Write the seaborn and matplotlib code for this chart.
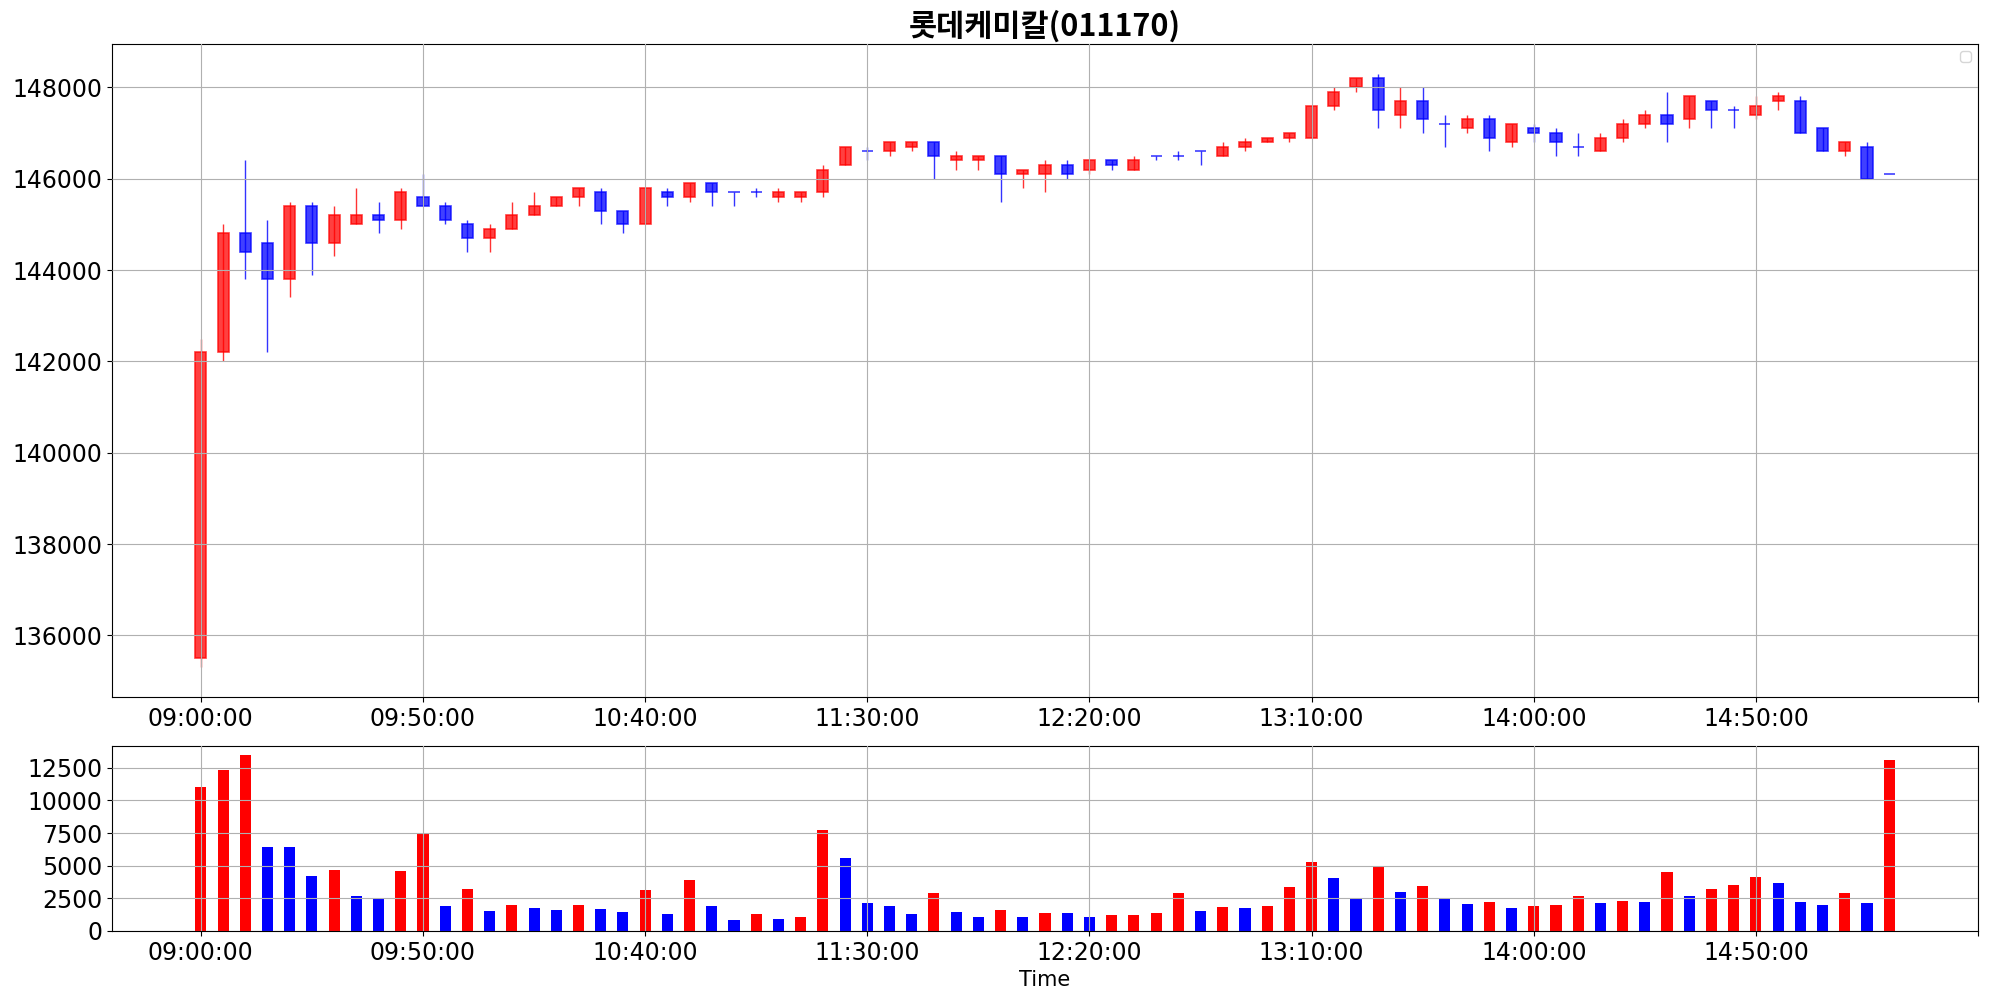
import matplotlib
matplotlib.use("Agg")
import matplotlib.pyplot as plt
from matplotlib.ticker import MultipleLocator
import seaborn as sns
import pandas as pd

title = "롯데케미칼(011170)"
tick_labels = ["09:00:00", "09:50:00", "10:40:00", "11:30:00",
               "12:20:00", "13:10:00", "14:00:00", "14:50:00", ""]

opens = [135500, 142200, 144800, 144600, 143800, 145400, 144600, 145000, 145200, 145100,
         145600, 145400, 145000, 144700, 144900, 145200, 145400, 145600, 145700, 145300,
         145000, 145700, 145600, 145900, 145700, 145700, 145600, 145600, 145700, 146300,
         146600, 146600, 146700, 146800, 146400, 146400, 146500, 146100, 146100, 146300,
         146200, 146400, 146200, 146500, 146500, 146600, 146500, 146700, 146800, 146900,
         146900, 147600, 148000, 148200, 147400, 147700, 147200, 147100, 147300, 146800,
         147100, 147000, 146700, 146600, 146900, 147200, 147400, 147300, 147700, 147500,
         147400, 147700, 147700, 147100, 146600, 146700, 146100]
closes = [142200, 144800, 144400, 143800, 145400, 144600, 145200, 145200, 145100, 145700,
          145400, 145100, 144700, 144900, 145200, 145400, 145600, 145800, 145300, 145000,
          145800, 145600, 145900, 145700, 145700, 145700, 145700, 145700, 146200, 146700,
          146600, 146800, 146800, 146500, 146500, 146500, 146100, 146200, 146300, 146100,
          146400, 146300, 146400, 146500, 146500, 146600, 146700, 146800, 146900, 147000,
          147600, 147900, 148200, 147500, 147700, 147300, 147200, 147300, 146900, 147200,
          147000, 146800, 146700, 146900, 147200, 147400, 147200, 147800, 147500, 147500,
          147600, 147800, 147000, 146600, 146800, 146000, 146100]
highs = [142500, 145000, 146400, 145100, 145500, 145500, 145400, 145800, 145500, 145800,
         146100, 145500, 145100, 145000, 145500, 145700, 145600, 145800, 145800, 145300,
         145800, 145800, 145900, 145900, 145700, 145800, 145800, 145700, 146300, 146700,
         146700, 146800, 146800, 146800, 146600, 146500, 146500, 146200, 146400, 146400,
         146400, 146400, 146500, 146500, 146600, 146600, 146800, 146900, 146900, 147000,
         147600, 148000, 148200, 148300, 148000, 148000, 147400, 147400, 147400, 147200,
         147200, 147100, 147000, 147000, 147300, 147500, 147900, 147800, 147700, 147600,
         147800, 147900, 147800, 147100, 146800, 146800, 146100]
lows = [135300, 142000, 143800, 142200, 143400, 143900, 144300, 145000, 144800, 144900,
        145400, 145000, 144400, 144400, 144900, 145200, 145400, 145400, 145000, 144800,
        145000, 145400, 145500, 145400, 145400, 145600, 145500, 145500, 145600, 146300,
        146400, 146500, 146600, 146000, 146200, 146200, 145500, 145800, 145700, 146000,
        146100, 146200, 146200, 146400, 146400, 146300, 146500, 146600, 146800, 146800,
        146900, 147500, 147900, 147100, 147100, 147000, 146700, 147000, 146600, 146700,
        146800, 146500, 146500, 146600, 146800, 147100, 146800, 147100, 147100, 147100,
        147300, 147500, 147000, 146600, 146500, 146000, 146100]
volumes = [11000, 12300, 13500, 6400, 6400, 4200, 4650, 2670, 2440, 4580,
           7400, 1900, 3200, 1530, 1990, 1760, 1600, 1990, 1680, 1450,
           3130, 1300, 3900, 1900, 840, 1300, 920, 1070, 7710, 5580,
           2140, 1900, 1300, 2900, 1450, 1070, 1600, 1070, 1400, 1380,
           1070, 1210, 1230, 1380, 2900, 1530, 1830, 1760, 1900, 3360,
           5270, 4050, 2440, 4890, 2980, 3440, 2440, 2060, 2210, 1760,
           1900, 1990, 2670, 2140, 2290, 2210, 4500, 2670, 3200, 3510,
           4120, 3670, 2210, 1990, 2900, 2140, 13100]

df = pd.DataFrame({"open": opens, "high": highs, "low": lows,
                   "close": closes, "volume": volumes})
df["idx"] = range(len(df))
df["candle"] = ["up" if c > o else "down" for o, c in zip(df["open"], df["close"])]
df["vol_dir"] = ["up" if i == 0 or v > df["volume"].iloc[i - 1] else "down"
                 for i, v in enumerate(df["volume"])]

colors = {"up": "red", "down": "blue"}

fig = plt.figure(figsize=(19.89, 9.99), dpi=100)
ax = fig.add_axes([0.0563, 0.3023, 0.9382, 0.6537])
ax_vol = fig.add_axes([0.0563, 0.0681, 0.9382, 0.1852])

# candles
for kind, grp in df.groupby("candle"):
    c = colors[kind]
    ax.vlines(grp["idx"], grp["low"], grp["high"], color=c, linewidth=1, alpha=0.8)
    body_low = grp[["open", "close"]].min(axis=1)
    body_h = (grp["close"] - grp["open"]).abs()
    ax.bar(grp["idx"], body_h, bottom=body_low, width=0.5,
           color=c, alpha=0.75, edgecolor=c, linewidth=1.2)

ax.set_title(title, fontsize=22, fontweight="bold",
             family=["Noto Sans CJK KR", "DejaVu Sans"])
ax.legend(loc="upper right")

# volume
sns.barplot(data=df, x="idx", y="volume", hue="vol_dir", palette=colors,
            dodge=False, width=0.5, saturation=1, legend=False, ax=ax_vol, zorder=1)
ax_vol.set_ylabel("")
ax_vol.set_xlabel("Time", fontsize=15)
ax_vol.yaxis.set_major_locator(MultipleLocator(2500))

ticks = list(range(0, 81, 10))
for a in (ax, ax_vol):
    a.set_xlim(-4, 80)
    a.set_xticks(ticks)
    a.set_xticklabels(tick_labels)
    a.tick_params(labelsize=17)
    a.grid(True, color="#b0b0b0", linewidth=0.8)
    a.set_axisbelow(False)
ax_vol.set_ylim(bottom=0)

fig.savefig("out.png", dpi=100)
